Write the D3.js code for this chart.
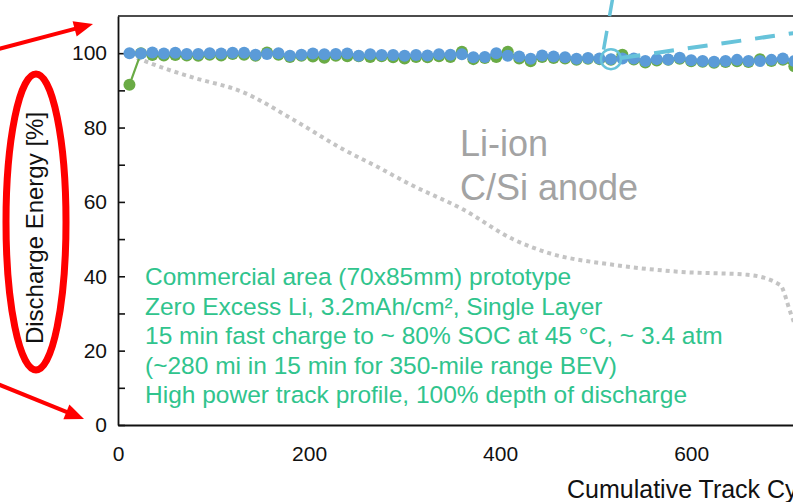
<!DOCTYPE html>
<html>
<head>
<meta charset="utf-8">
<script src="https://cdn.jsdelivr.net/npm/d3@7"></script>
<style>
  html, body { margin: 0; padding: 0; background: #fff; }
  svg { display: block; font-family: "Liberation Sans", Arial, sans-serif; }
</style>
</head>
<body>
<svg id="chart" width="793" height="502"></svg>
<script>
// Cycle numbers at which discharge energy was logged
const cycles = [12, 24, 36, 48, 60, 72, 84, 96, 108, 120, 132, 144, 156, 168, 180, 192, 204, 216, 228, 240,
  252, 264, 276, 288, 300, 312, 324, 336, 348, 360, 372, 384, 396, 408, 420, 432, 444, 456, 468, 480,
  492, 504, 516, 528, 540, 552, 564, 576, 588, 600, 612, 624, 636, 648, 660, 672, 684, 696, 708];

// Cell A (blue) discharge energy, % of initial
const blueEnergy = [100.0, 99.9, 100.2, 99.9, 100.1, 99.8, 99.8, 100.0, 99.9, 100.1, 100.1, 99.6, 99.8, 100.0, 99.3, 99.6, 99.9, 99.7, 99.8, 99.9,
  99.3, 99.7, 99.5, 99.5, 99.3, 99.5, 99.4, 99.7, 99.6, 99.7, 98.9, 99.0, 100.0, 99.3, 99.1, 98.5, 99.4, 99.1, 98.9, 98.5,
  98.7, 98.6, 98.4, 98.6, 98.6, 97.9, 98.4, 98.3, 98.8, 98.1, 97.9, 97.7, 97.9, 98.2, 97.9, 97.9, 98.2, 98.6, 97.9];

// Cell B (green) discharge energy, % of initial
const greenEnergy = [91.5, 100.0, 99.5, 99.4, 99.5, 99.4, 99.3, 99.6, 99.4, 99.8, 99.6, 99.3, 100.2, 99.6, 99.0, 99.3, 99.1, 98.8, 99.3, 99.2,
  99.2, 99.0, 99.2, 98.9, 98.6, 99.0, 98.9, 99.2, 99.0, 100.4, 98.4, 98.7, 99.0, 100.4, 98.6, 97.8, 99.0, 98.7, 98.6, 98.2,
  98.5, 98.4, 98.2, 99.6, 98.3, 97.5, 98.0, 98.2, 98.5, 97.8, 97.7, 97.4, 97.6, 97.8, 97.6, 98.4, 97.9, 98.2, 96.5];

// Reference Li-ion (C/Si anode) fade curve
const liionCycles = [12, 51, 78, 131, 183, 236, 271, 306, 361, 414, 449, 518, 588, 659, 693, 704, 712];
const liionEnergy = [99.5, 95.7, 93.5, 89.5, 82.2, 74.1, 69.5, 64.7, 58.0, 49.9, 46.4, 43.1, 41.2, 40.4, 37.7, 30.2, 24.5];

// Axis ticks
const xTicks = [0, 200, 400, 600];
const yTicks = [0, 20, 40, 60, 80, 100];
const yMinorTicks = [10, 30, 50, 70, 90];

// Callout: highlighted point and its two dashed leader lines (in data units)
const calloutPoint = [516, 98.4];
const leaderUp = [[518, 115], [508, 100.5]];
const leaderRight = [[526, 98.7], [707, 105.4]];

const noteLines = [
  "Commercial area (70x85mm) prototype",
  "Zero Excess Li, 3.2mAh/cm², Single Layer",
  "15 min fast charge to ~ 80% SOC at 45 °C, ~ 3.4 atm",
  "(~280 mi in 15 min for 350-mile range BEV)",
  "High power track profile, 100% depth of discharge"
];
const liionLabel = ["Li-ion", "C/Si anode"];

const svg = d3.select("#chart");
const plot = { left: 118, top: 16, bottom: 425, right: 844 };

const x = d3.scaleLinear().domain([0, 760]).range([plot.left, plot.right]);
const y = d3.scaleLinear().domain([0, 110]).range([plot.bottom, plot.top]);

svg.append("rect").attr("width", 793).attr("height", 502).attr("fill", "#fff");

svg.append("defs").append("clipPath").attr("id", "plotClip")
  .append("rect")
  .attr("x", plot.left).attr("y", plot.top)
  .attr("width", plot.right - plot.left).attr("height", plot.bottom - plot.top);

// Frame: top border
svg.append("line")
  .attr("x1", plot.left).attr("x2", plot.right)
  .attr("y1", y(110)).attr("y2", y(110))
  .attr("stroke", "#111").attr("stroke-width", 1.6);

// Y axis (ticks point inward)
const yAxis = svg.append("g")
  .attr("transform", `translate(${plot.left},0)`)
  .call(d3.axisLeft(y).tickValues(yTicks).tickSizeInner(-7).tickSizeOuter(0).tickPadding(11));
yAxis.select(".domain").attr("stroke", "#111").attr("stroke-width", 1.8);
yAxis.selectAll(".tick line").attr("stroke", "#111").attr("stroke-width", 1.6);
yAxis.selectAll(".tick text").attr("font-size", 21).attr("fill", "#111")
  .attr("font-family", "Liberation Sans, Arial, sans-serif");

svg.append("g")
  .attr("transform", `translate(${plot.left},0)`)
  .call(d3.axisLeft(y).tickValues(yMinorTicks).tickSizeInner(-7).tickSizeOuter(0).tickFormat(""))
  .call(g => g.select(".domain").remove())
  .selectAll(".tick line").attr("stroke", "#111").attr("stroke-width", 1.6);

// X axis
const xAxis = svg.append("g")
  .attr("transform", `translate(0,${plot.bottom})`)
  .call(d3.axisBottom(x).tickValues(xTicks).tickSize(0).tickSizeOuter(0).tickPadding(21));
xAxis.select(".domain").attr("stroke", "#111").attr("stroke-width", 1.8);
xAxis.selectAll(".tick text").attr("font-size", 21).attr("fill", "#111")
  .attr("font-family", "Liberation Sans, Arial, sans-serif");

// Axis titles
svg.append("text")
  .attr("transform", "translate(43,228) rotate(-90)")
  .attr("text-anchor", "middle")
  .attr("font-size", 24).attr("fill", "#111")
  .text("Discharge Energy [%]");

svg.append("text")
  .attr("x", 567).attr("y", 498)
  .attr("font-size", 25).attr("fill", "#111")
  .text("Cumulative Track Cycles");

const data = svg.append("g").attr("clip-path", "url(#plotClip)");

// Li-ion reference curve (dotted)
const liion = liionCycles.map((c, i) => [c, liionEnergy[i]]);
data.append("path")
  .datum(liion)
  .attr("fill", "none")
  .attr("stroke", "#c4c4c4")
  .attr("stroke-width", 4)
  .attr("stroke-dasharray", "4,4")
  .attr("d", d3.line().x(d => x(d[0])).y(d => y(d[1])).curve(d3.curveMonotoneX));

function drawSeries(values, color) {
  const pts = cycles.map((c, i) => [c, values[i]]);
  data.append("path")
    .datum(pts)
    .attr("fill", "none")
    .attr("stroke", color)
    .attr("stroke-width", 2.2)
    .attr("d", d3.line().x(d => x(d[0])).y(d => y(d[1])));
  data.append("g").selectAll("circle")
    .data(pts).join("circle")
    .attr("cx", d => x(d[0])).attr("cy", d => y(d[1]))
    .attr("r", 6).attr("fill", color);
}
drawSeries(greenEnergy, "#6aab45");
drawSeries(blueEnergy, "#5b9bd8");

// Notes
const note = svg.append("text")
  .attr("font-size", 24.5).attr("fill", "#30c48d");
note.selectAll("tspan").data(noteLines).join("tspan")
  .attr("x", 145)
  .attr("y", (d, i) => 285 + i * 29.5)
  .text(d => d);

svg.append("text")
  .attr("font-size", 36).attr("fill", "#a3a3a3")
  .selectAll("tspan").data(liionLabel).join("tspan")
  .attr("x", 460)
  .attr("y", (d, i) => 156 + i * 44)
  .text(d => d);

// Callout on the highlighted cycle
const cyan = "#67c3da";
svg.append("line")
  .attr("x1", x(leaderUp[0][0])).attr("y1", y(leaderUp[0][1]))
  .attr("x2", x(leaderUp[1][0])).attr("y2", y(leaderUp[1][1]))
  .attr("stroke", cyan).attr("stroke-width", 3.5).attr("stroke-dasharray", "19,15");
svg.append("line")
  .attr("x1", x(leaderRight[0][0])).attr("y1", y(leaderRight[0][1]))
  .attr("x2", x(leaderRight[1][0])).attr("y2", y(leaderRight[1][1]))
  .attr("stroke", cyan).attr("stroke-width", 4).attr("stroke-dasharray", "20,14");
svg.append("circle")
  .attr("cx", x(calloutPoint[0])).attr("cy", y(calloutPoint[1]))
  .attr("r", 10).attr("fill", "none")
  .attr("stroke", cyan).attr("stroke-width", 2.5);

// Red emphasis marks around the y axis
const red = "#ff0000";
svg.append("ellipse")
  .attr("cx", 36).attr("cy", 222).attr("rx", 30).attr("ry", 148)
  .attr("fill", "none").attr("stroke", red).attr("stroke-width", 7);

function arrow(x0, y0, x1, y1) {
  const dx = x1 - x0, dy = y1 - y0, len = Math.hypot(dx, dy);
  const ux = dx / len, uy = dy / len, head = 19, half = 8;
  const bx = x1 - ux * head, by = y1 - uy * head;
  svg.append("line")
    .attr("x1", x0).attr("y1", y0).attr("x2", bx + ux * 2).attr("y2", by + uy * 2)
    .attr("stroke", red).attr("stroke-width", 4);
  svg.append("path")
    .attr("d", `M${x1},${y1}L${bx - uy * half},${by + ux * half}L${bx + uy * half},${by - ux * half}Z`)
    .attr("fill", red);
}
arrow(-5, 50, 93, 24);
arrow(-5, 383, 84, 419);
</script>
</body>
</html>
